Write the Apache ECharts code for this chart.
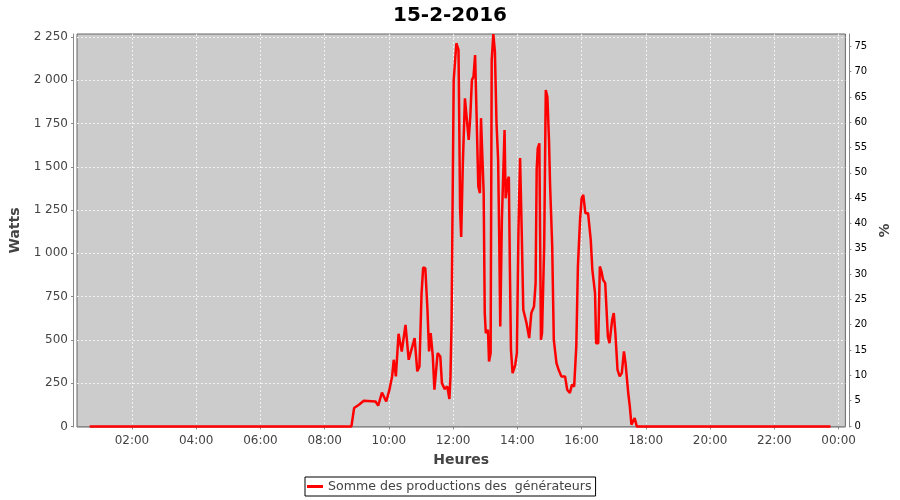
<!DOCTYPE html>
<html>
<head>
<meta charset="utf-8">
<script src="https://cdn.jsdelivr.net/npm/echarts@6/dist/echarts.min.js"></script>
<style>html,body{margin:0;padding:0;background:#fff}#c{width:900px;height:500px}</style>
</head>
<body>
<div id="c"></div>
<script>
const chartTitle = '15-2-2016';
const seriesName = 'Somme des productions des  générateurs';
const xTicks = [2, 4, 6, 8, 10, 12, 14, 16, 18, 20, 22, 24];
const wattTicks = [0, 250, 500, 750, 1000, 1250, 1500, 1750, 2000, 2250];
const pctTicks = [0, 5, 10, 15, 20, 25, 30, 35, 40, 45, 50, 55, 60, 65, 70, 75];
const times = [
 '00:41','07:59','08:02','08:05','08:50','08:55','09:04','09:13','09:35','09:40','09:47','09:55',
 '10:01','10:06','10:09','10:13','10:18','10:21','10:24','10:31','10:37','10:40','10:48','10:53','10:57',
 '11:01','11:04','11:08','11:12','11:15','11:18','11:22','11:25','11:28','11:31','11:36','11:39','11:44','11:49','11:53','11:55','11:57','11:59',
 '12:01','12:06','12:10','12:13','12:15','12:18','12:22','12:25','12:29','12:32','12:35','12:38','12:41','12:44','12:47','12:50','12:52','12:55','12:57','12:59',
 '13:01','13:05','13:07','13:10','13:12','13:15','13:18','13:21','13:24','13:26','13:28','13:31','13:36','13:38','13:42','13:44','13:46','13:48','13:51','13:56','13:59',
 '14:02','14:05','14:08','14:11','14:17','14:22','14:26','14:31','14:34','14:36','14:38','14:41','14:44','14:46','14:50','14:53','14:56','14:59',
 '15:01','15:05','15:08','15:13','15:17','15:22','15:29','15:33','15:38','15:42','15:46','15:50','15:53','15:57',
 '16:00','16:03','16:07','16:12','16:17','16:20','16:25','16:27','16:31','16:34','16:37','16:40','16:44','16:49','16:52','16:57',
 '17:00','17:03','17:07','17:11','17:15','17:19','17:22','17:27','17:30','17:33','17:36','17:39','17:43','17:45',
 '20:00','20:01','20:03','23:45'
];
const watts = [
 0,0,10,0,0,106,125,148,144,120,196,144,
 212,289,385,289,535,529,433,587,385,375,510,318,346,
 770,918,914,674,433,539,404,212,202,424,404,250,216,231,158,289,600,1300,
 2000,2214,2175,1251,1094,1511,1896,1886,1655,1790,2001,2021,2146,2136,1386,1348,1781,1771,1348,655,
 539,558,375,424,2117,2267,2165,1752,1540,1100,577,1193,1713,1318,1424,1443,905,443,308,356,424,
 1136,1550,1136,674,597,510,655,693,828,1482,1607,1636,500,539,1039,1944,1905,1655,
 1400,1039,500,366,327,289,289,212,193,241,231,462,924,1193,
 1318,1338,1232,1232,1078,905,770,481,481,924,895,847,828,520,481,616,
 655,539,327,289,308,433,366,193,115,10,0,48,0,0,
 0,6,0,0
];
function toHours(t){const p=t.split(':');return +p[0]+ (+p[1])/60;}
const data = times.map((t,i)=>[toHours(t), watts[i]]);
const FONT = 'DejaVu Sans';
function pad(n){return (n<10?'0':'')+n;}
function fmtThousands(v){return String(v).replace(/\B(?=(\d{3})+(?!\d))/g,' ');}

const chart = echarts.init(document.getElementById('c'), null, {renderer:'canvas'});
chart.setOption({
  animation:false,
  backgroundColor:'#ffffff',
  title:{text:chartTitle,left:'center',top:1,textStyle:{fontFamily:FONT,fontSize:20,fontWeight:'bold',color:'#000'}},
  grid:{left:77,right:52,top:34,bottom:73,show:true,backgroundColor:'#cccccc',borderColor:'#666',borderWidth:1},
  legend:{data:[seriesName],left:305,top:477,padding:[3,4,3,2],itemWidth:16,itemHeight:3,itemGap:4,icon:'rect',
    borderColor:'#000',borderWidth:1,textStyle:{fontFamily:FONT,fontSize:12.6,color:'#444'}},
  xAxis:{type:'value',min:0.29,max:24.21,offset:4,
    name:'Heures',nameLocation:'middle',nameGap:22,nameTextStyle:{fontFamily:FONT,fontSize:14,fontWeight:'bold',color:'#444'},
    axisLine:{show:true,lineStyle:{color:'#888'}},
    axisTick:{show:true,length:3,customValues:xTicks,lineStyle:{color:'#888'}},
    axisLabel:{customValues:xTicks,margin:4,fontFamily:FONT,fontSize:12,color:'#444',formatter:v=>pad(Math.round(v)%24)+':00'},
    splitLine:{show:true,lineStyle:{color:'#f2f2f2',type:[2,2],width:1}}
  },
  yAxis:[
    {type:'value',min:-3.5,max:2267.3,offset:4,position:'left',
     name:'Watts',nameLocation:'middle',nameGap:42,nameRotate:90,nameTextStyle:{fontFamily:FONT,fontSize:14,fontWeight:'bold',color:'#444'},
     axisLine:{show:true,lineStyle:{color:'#888'}},
     axisTick:{show:true,length:2,customValues:wattTicks,lineStyle:{color:'#888'}},
     axisLabel:{customValues:wattTicks,margin:5,fontFamily:FONT,fontSize:12,color:'#444',formatter:v=>fmtThousands(v)},
     splitLine:{show:true,lineStyle:{color:'#f2f2f2',type:[2,2],width:1}}
    },
    {type:'value',min:-0.2,max:77.43,offset:4,position:'right',
     name:'%',nameLocation:'middle',nameGap:22,nameRotate:90,nameTextStyle:{fontFamily:FONT,fontSize:14,fontWeight:'bold',color:'#444'},
     axisLine:{show:true,lineStyle:{color:'#888'}},
     axisTick:{show:true,length:2,customValues:pctTicks,lineStyle:{color:'#888'}},
     axisLabel:{customValues:pctTicks,margin:5,fontFamily:FONT,fontSize:10,color:'#000'},
     splitLine:{show:false}
    }
  ],
  series:[{name:seriesName,type:'line',data:data,yAxisIndex:0,showSymbol:false,symbol:'none',
    lineStyle:{color:'#ff0000',width:2.5},itemStyle:{color:'#ff0000'},clip:true}]
});
</script>
</body>
</html>
